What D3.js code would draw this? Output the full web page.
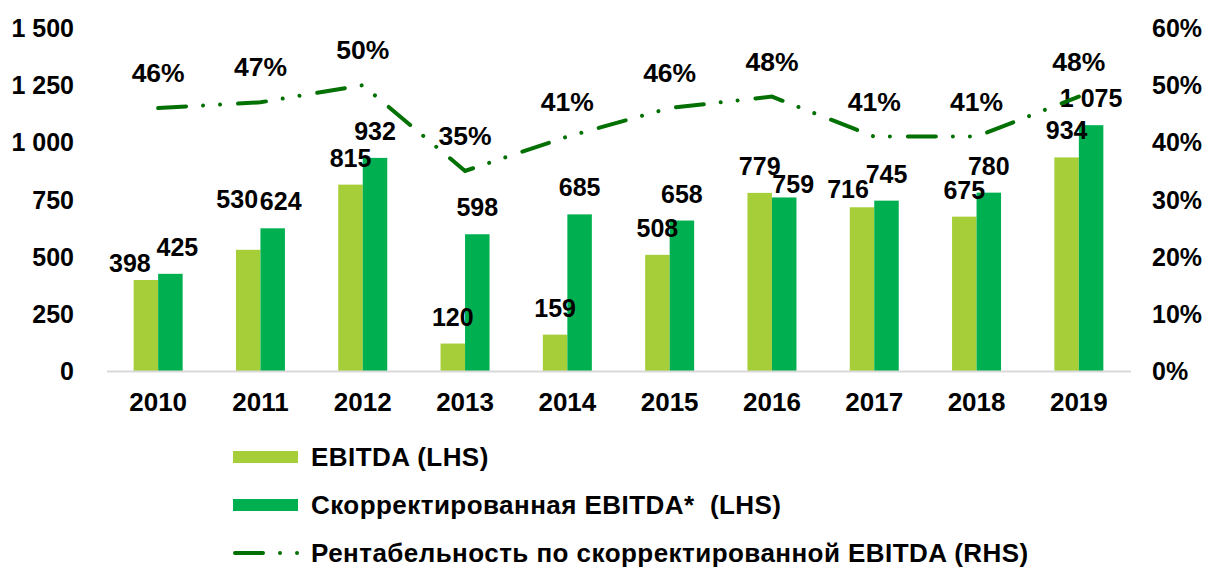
<!DOCTYPE html>
<html>
<head>
<meta charset="utf-8">
<script src="https://cdn.jsdelivr.net/npm/d3@7"></script>
<style>
  body { margin: 0; background: #fff; }
  svg text { font-family: "Liberation Sans", Arial, sans-serif; font-weight: bold; fill: #000; }
</style>
</head>
<body>
<svg id="chart"></svg>
<script>
const years = ["2010", "2011", "2012", "2013", "2014", "2015", "2016", "2017", "2018", "2019"];
const ebitda = [398, 530, 815, 120, 159, 508, 779, 716, 675, 934];
const adjEbitda = [425, 624, 932, 598, 685, 658, 759, 745, 780, 1075];
const margin = [0.46, 0.47, 0.50, 0.35, 0.41, 0.46, 0.48, 0.41, 0.41, 0.48];
const leftTicks = [0, 250, 500, 750, 1000, 1250, 1500];
const rightTicks = [0, 0.1, 0.2, 0.3, 0.4, 0.5, 0.6];
const legendLabels = [
  "EBITDA (LHS)",
  "Скорректированная EBITDA*  (LHS)",
  "Рентабельность по скорректированной EBITDA (RHS)"
];

const colors = { ebitda: "#a6ce39", adj: "#00b050", line: "#037003" };

// label nudges for the data labels that were moved by hand in the original
const nudge = {
  "ebitda-2010": [-16, 10],
  "adj-2010": [7, 0],
  "ebitda-2011": [-11, -24],
  "adj-2011": [8, 0],
  "adj-2016": [9, 14],
  "ebitda-2017": [-14, 9]
};

const W = 1207, H = 569;
const svg = d3.select("#chart").attr("width", W).attr("height", H);

const x0 = d3.scaleBand().domain(years).range([107, 1130]);
const bw = x0.bandwidth();
const x1 = d3.scaleBand().domain(["ebitda", "adj"]).range([bw / 2 - 24.5, bw / 2 + 24.5]);
const y = d3.scaleLinear().domain([0, 1500]).range([371, 28]);
const y2 = d3.scaleLinear().domain([0, 0.6]).range([371, 28]);

// left axis labels
const fmtLeft = d => d3.format(",")(d).replace(/,/g, " ");
svg.append("g").selectAll("text")
  .data(leftTicks)
  .join("text")
  .attr("x", 74)
  .attr("y", d => y(d))
  .attr("text-anchor", "end")
  .attr("dominant-baseline", "central")
  .attr("font-size", 25)
  .text(fmtLeft);

// right axis labels
svg.append("g").selectAll("text")
  .data(rightTicks)
  .join("text")
  .attr("x", 1152)
  .attr("y", d => y2(d))
  .attr("text-anchor", "start")
  .attr("dominant-baseline", "central")
  .attr("font-size", 25)
  .text(d3.format(".0%"));

// bars
const rows = years.map((yr, i) => ({ year: yr, ebitda: ebitda[i], adj: adjEbitda[i], margin: margin[i] }));
const groups = svg.append("g").selectAll("g")
  .data(rows)
  .join("g")
  .attr("transform", d => `translate(${x0(d.year)},0)`);

groups.selectAll("rect")
  .data(d => ["ebitda", "adj"].map(k => ({ key: k, value: d[k], year: d.year })))
  .join("rect")
  .attr("x", d => x1(d.key))
  .attr("width", x1.bandwidth())
  .attr("y", d => y(d.value))
  .attr("height", d => y(0) - y(d.value))
  .attr("fill", d => colors[d.key]);

// baseline
svg.append("line")
  .attr("x1", 107).attr("x2", 1131)
  .attr("y1", y(0) + 0.5).attr("y2", y(0) + 0.5)
  .attr("stroke", "#d9d9d9").attr("stroke-width", 2);

// x labels
svg.append("g").selectAll("text")
  .data(years)
  .join("text")
  .attr("x", d => x0(d) + bw / 2)
  .attr("y", 402)
  .attr("text-anchor", "middle")
  .attr("dominant-baseline", "central")
  .attr("font-size", 26)
  .text(d => d);

// margin line
const dashes = "28 17 0.01 17 0.01 18";
const line = d3.line()
  .x(d => x0(d.year) + bw / 2)
  .y(d => y2(d.margin));
svg.append("path")
  .datum(rows)
  .attr("d", line)
  .attr("fill", "none")
  .attr("stroke", colors.line)
  .attr("stroke-width", 4)
  .attr("stroke-linecap", "round")
  .attr("stroke-dasharray", dashes);

// bar value labels
groups.selectAll("text.val")
  .data(d => ["ebitda", "adj"].map(k => ({ key: k, value: d[k], year: d.year })))
  .join("text")
  .attr("class", "val")
  .attr("x", d => x1(d.key) + x1.bandwidth() / 2 + (nudge[d.key + "-" + d.year] || [0, 0])[0])
  .attr("y", d => y(d.value) - 27 + (nudge[d.key + "-" + d.year] || [0, 0])[1])
  .attr("text-anchor", "middle")
  .attr("dominant-baseline", "central")
  .attr("font-size", 25)
  .text(d => fmtLeft(d.value));

// margin labels
svg.append("g").selectAll("text")
  .data(rows)
  .join("text")
  .attr("x", d => x0(d.year) + bw / 2)
  .attr("y", d => y2(d.margin) - 35)
  .attr("text-anchor", "middle")
  .attr("dominant-baseline", "central")
  .attr("font-size", 26.5)
  .text(d => d3.format(".0%")(d.margin));

// legend
const legend = svg.append("g").attr("transform", "translate(233,0)");
const legY = [457, 505, 553];
legend.append("rect").attr("x", 0).attr("y", legY[0] - 6).attr("width", 65).attr("height", 12).attr("fill", colors.ebitda);
legend.append("rect").attr("x", 0).attr("y", legY[1] - 6).attr("width", 65).attr("height", 12).attr("fill", colors.adj);
legend.append("line")
  .attr("x1", 2).attr("x2", 66)
  .attr("y1", legY[2]).attr("y2", legY[2])
  .attr("stroke", colors.line)
  .attr("stroke-width", 4)
  .attr("stroke-linecap", "round")
  .attr("stroke-dasharray", dashes);
legend.selectAll("text")
  .data(legendLabels)
  .join("text")
  .attr("x", 78)
  .attr("y", (d, i) => legY[i])
  .attr("dominant-baseline", "central")
  .attr("font-size", 26)
  .attr("letter-spacing", 0.45)
  .style("white-space", "pre")
  .text(d => d);
</script>
</body>
</html>
